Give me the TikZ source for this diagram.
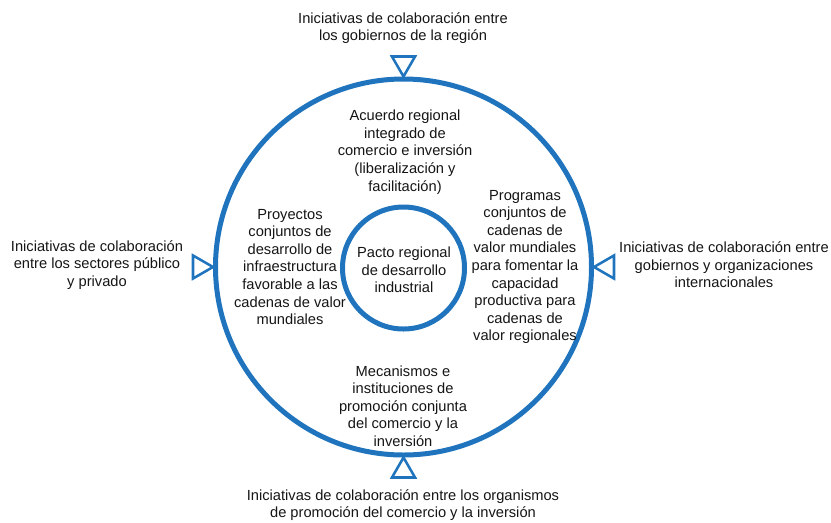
\documentclass[tikz,border=0pt]{standalone}
\usepackage{fontspec}
\setmainfont{Liberation Sans}
\usetikzlibrary{shapes.geometric,positioning}
\definecolor{pblue}{HTML}{1F74BD}
\definecolor{ptext}{HTML}{151515}

\begin{document}
\begin{tikzpicture}[x=0.75pt, y=-0.75pt,
  ring/.style={circle, draw=pblue, line width=3.75pt, inner sep=0pt},
  tri/.style={regular polygon, regular polygon sides=3, draw=pblue, line width=1.9pt,
    inner sep=0pt, outer sep=0pt, minimum size=20pt},
  lbl/.style={align=center, text=ptext, font=\fontsize{11}{13.2}\selectfont, inner sep=0pt}
]
\useasboundingbox (0,0) rectangle (831,522);

% circles
\node[ring, minimum size=282pt] (outer) at (403.5,267) {};
\node[ring, minimum size=91.5pt] (core) at (403.5,268) {};
\node[lbl] (pacto) at (404,270) {Pacto regional\\de desarrollo\\industrial};

% triangles on the ring
\node[tri, shape border rotate=180, anchor=south] (tritop) at (outer.north) {};
\node[tri, anchor=north] (tribot) at (outer.south) {};
\node[tri, shape border rotate=-90, anchor=east] (trileft) at (outer.west) {};
\node[tri, shape border rotate=90, anchor=west] (triright) at (outer.east) {};

% texts inside the ring
\node[lbl] (acuerdo) at (405,152) {Acuerdo regional\\integrado de\\comercio e inversión\\(liberalización y\\facilitación)};
\node[lbl] (proyectos) at (290,267) {Proyectos\\conjuntos de\\desarrollo de\\infraestructura\\favorable a las\\cadenas de valor\\mundiales};
\node[lbl] (programas) at (525,267) {Programas\\conjuntos de\\cadenas de\\valor mundiales\\para fomentar la\\capacidad\\productiva para\\cadenas de\\valor regionales};
\node[lbl] (mecanismos) at (403,406) {Mecanismos e\\instituciones de\\promoción conjunta\\del comercio y la\\inversión};

% outer texts
\node[lbl] (gobregion) at (403,28) {Iniciativas de colaboración entre\\los gobiernos de la región};
\node[lbl] (sectores) at (97,265) {Iniciativas de colaboración\\entre los sectores público\\y privado};
\node[lbl] (internac) at (724,265) {Iniciativas de colaboración entre\\gobiernos y organizaciones\\internacionales};
\node[lbl] (organismos) at (403,505) {Iniciativas de colaboración entre los organismos\\de promoción del comercio y la inversión};
\end{tikzpicture}
\end{document}
